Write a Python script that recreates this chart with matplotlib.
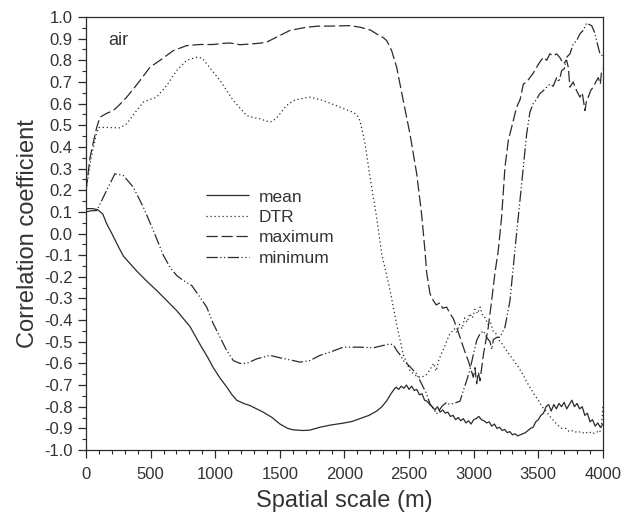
import matplotlib
matplotlib.use("Agg")
import matplotlib.pyplot as plt
from matplotlib.ticker import MultipleLocator

plt.rcParams["font.family"] = ["Liberation Sans", "DejaVu Sans"]

# values (spatial scale in m, correlation coefficient)
MEAN_PTS = [
    (0, 0.115), (50, 0.115), (90, 0.11), (130, 0.09), (160, 0.045), (200, 0.0),
    (250, -0.06), (290, -0.105), (350, -0.145), (400, -0.178), (470, -0.22),
    (550, -0.265), (625, -0.31), (700, -0.355), (805, -0.43), (880, -0.51),
    (940, -0.57), (985, -0.62), (1040, -0.67), (1090, -0.71), (1130, -0.745),
    (1166, -0.77), (1220, -0.785), (1270, -0.795), (1320, -0.81), (1371, -0.825),
    (1440, -0.85), (1501, -0.88), (1560, -0.9), (1604, -0.907), (1680, -0.91),
    (1733, -0.908), (1810, -0.895), (1890, -0.885), (1990, -0.876), (2060, -0.868),
    (2120, -0.855), (2190, -0.84), (2250, -0.82), (2290, -0.8), (2330, -0.77),
    (2360, -0.74), (2390, -0.715), (2400, -0.71), (2420, -0.72), (2440, -0.705),
    (2460, -0.715), (2480, -0.70), (2500, -0.72), (2520, -0.705), (2540, -0.725),
    (2560, -0.72), (2580, -0.745), (2600, -0.74), (2620, -0.77), (2640, -0.775),
    (2660, -0.79), (2680, -0.80), (2700, -0.815), (2720, -0.80), (2740, -0.825),
    (2760, -0.815), (2780, -0.83), (2800, -0.825), (2820, -0.845), (2840, -0.84),
    (2860, -0.86), (2880, -0.85), (2900, -0.865), (2920, -0.855), (2940, -0.875),
    (2960, -0.865), (2980, -0.88), (3000, -0.86), (3020, -0.855), (3040, -0.845),
    (3060, -0.86), (3080, -0.865), (3100, -0.875), (3120, -0.87), (3140, -0.89),
    (3160, -0.88), (3180, -0.9), (3200, -0.895), (3220, -0.91), (3240, -0.905),
    (3260, -0.92), (3280, -0.915), (3300, -0.93), (3320, -0.925), (3340, -0.935),
    (3360, -0.93), (3380, -0.925), (3400, -0.92), (3420, -0.91), (3440, -0.9),
    (3460, -0.895), (3480, -0.87), (3500, -0.86), (3520, -0.84), (3540, -0.83),
    (3560, -0.80), (3580, -0.79), (3600, -0.82), (3620, -0.79), (3640, -0.81),
    (3660, -0.785), (3680, -0.80), (3700, -0.78), (3720, -0.81), (3740, -0.79),
    (3760, -0.77), (3780, -0.80), (3800, -0.785), (3820, -0.81), (3840, -0.80),
    (3860, -0.84), (3880, -0.83), (3900, -0.87), (3920, -0.86), (3940, -0.89),
    (3960, -0.875), (3980, -0.895), (4000, -0.88),
]

DTR_PTS = [
    (0, 0.2), (40, 0.35), (80, 0.46), (100, 0.49), (160, 0.49), (263, 0.488),
    (315, 0.507), (392, 0.568), (444, 0.607), (500, 0.62), (547, 0.63),
    (624, 0.683), (702, 0.753), (779, 0.80), (856, 0.814), (900, 0.81),
    (934, 0.784), (1037, 0.707), (1140, 0.614), (1243, 0.545), (1300, 0.535),
    (1346, 0.53), (1424, 0.514), (1470, 0.53), (1501, 0.553), (1550, 0.59),
    (1604, 0.614), (1680, 0.625), (1733, 0.63), (1800, 0.62), (1836, 0.614),
    (1940, 0.59), (2000, 0.575), (2068, 0.56), (2100, 0.545), (2120, 0.52),
    (2140, 0.47), (2159, 0.415), (2198, 0.26), (2249, 0.075), (2288, -0.093),
    (2352, -0.26), (2404, -0.42), (2455, -0.56), (2507, -0.633), (2559, -0.66),
    (2590, -0.665), (2610, -0.66), (2630, -0.655), (2650, -0.64), (2670, -0.62),
    (2690, -0.60), (2710, -0.635), (2730, -0.585), (2750, -0.555), (2770, -0.53),
    (2790, -0.50), (2810, -0.47), (2830, -0.455), (2850, -0.44), (2870, -0.455),
    (2890, -0.42), (2910, -0.44), (2930, -0.39), (2950, -0.41), (2970, -0.37),
    (2990, -0.39), (3010, -0.35), (3030, -0.37), (3050, -0.34), (3070, -0.38),
    (3090, -0.39), (3110, -0.42), (3130, -0.41), (3150, -0.45), (3170, -0.46),
    (3190, -0.49), (3210, -0.5), (3230, -0.52), (3260, -0.545), (3290, -0.57),
    (3320, -0.595), (3350, -0.62), (3380, -0.65), (3410, -0.685), (3440, -0.715),
    (3470, -0.745), (3500, -0.77), (3530, -0.80), (3560, -0.82), (3590, -0.845),
    (3620, -0.865), (3650, -0.885), (3680, -0.9), (3710, -0.9), (3740, -0.915),
    (3770, -0.91), (3800, -0.92), (3830, -0.915), (3860, -0.925), (3890, -0.915),
    (3920, -0.925), (3950, -0.915), (3975, -0.92), (3990, -0.88), (4000, -0.80),
]

MAX_PTS = [
    (0, 0.2), (31, 0.35), (60, 0.43), (83, 0.49), (108, 0.537), (160, 0.555),
    (211, 0.568), (260, 0.595), (315, 0.63), (370, 0.67), (418, 0.707),
    (495, 0.768), (573, 0.80), (676, 0.845), (779, 0.868), (882, 0.873),
    (985, 0.873), (1060, 0.878), (1114, 0.88), (1191, 0.872), (1260, 0.875),
    (1346, 0.879), (1398, 0.884), (1475, 0.907), (1578, 0.938), (1707, 0.953),
    (1800, 0.958), (1888, 0.958), (2043, 0.96), (2120, 0.953), (2200, 0.94),
    (2249, 0.922), (2300, 0.905), (2327, 0.891), (2365, 0.845), (2404, 0.768),
    (2455, 0.614), (2507, 0.46), (2559, 0.276), (2597, 0.09), (2623, -0.08),
    (2636, -0.18), (2662, -0.278), (2688, -0.31), (2710, -0.33), (2739, -0.32),
    (2760, -0.345), (2791, -0.34), (2817, -0.37), (2840, -0.39), (2868, -0.433),
    (2895, -0.48), (2920, -0.525), (2940, -0.56), (2958, -0.587), (2980, -0.63),
    (2997, -0.664), (3010, -0.62), (3023, -0.694), (3036, -0.64), (3049, -0.68),
    (3075, -0.56), (3113, -0.433), (3139, -0.31), (3165, -0.18), (3190, -0.08),
    (3216, 0.075), (3242, 0.306), (3268, 0.43), (3306, 0.52), (3332, 0.583),
    (3360, 0.62), (3384, 0.69), (3410, 0.70), (3435, 0.72), (3460, 0.74),
    (3487, 0.768), (3510, 0.79), (3539, 0.814), (3565, 0.80), (3590, 0.83),
    (3615, 0.82), (3642, 0.83), (3670, 0.81), (3694, 0.784), (3719, 0.80),
    (3732, 0.768), (3745, 0.676), (3770, 0.70), (3796, 0.66), (3822, 0.63),
    (3840, 0.65), (3861, 0.568), (3875, 0.62), (3887, 0.63), (3905, 0.66),
    (3925, 0.676), (3945, 0.70), (3964, 0.72), (3980, 0.69), (3990, 0.753),
    (4000, 0.76),
]

MIN_PTS = [
    (0, 0.10), (40, 0.105), (83, 0.106), (120, 0.15), (160, 0.2), (224, 0.276),
    (289, 0.268), (366, 0.214), (444, 0.121), (521, 0.014), (598, -0.10),
    (650, -0.156), (702, -0.194), (753, -0.217), (818, -0.24), (882, -0.294),
    (934, -0.34), (985, -0.417), (1037, -0.479), (1088, -0.54), (1140, -0.587),
    (1191, -0.60), (1243, -0.60), (1321, -0.579), (1424, -0.563), (1501, -0.574),
    (1604, -0.587), (1656, -0.594), (1733, -0.587), (1810, -0.563), (1888, -0.548),
    (1991, -0.525), (2120, -0.525), (2223, -0.528), (2300, -0.517), (2352, -0.51),
    (2380, -0.515), (2404, -0.54), (2430, -0.56), (2455, -0.587), (2480, -0.60),
    (2507, -0.615), (2530, -0.63), (2559, -0.648), (2585, -0.68), (2610, -0.71),
    (2635, -0.74), (2662, -0.787), (2690, -0.81), (2713, -0.833), (2730, -0.82),
    (2752, -0.80), (2770, -0.79), (2791, -0.78), (2815, -0.79), (2842, -0.785),
    (2868, -0.78), (2894, -0.775), (2920, -0.725), (2945, -0.68), (2971, -0.63),
    (2997, -0.56), (3023, -0.494), (3049, -0.463), (3075, -0.45), (3101, -0.48),
    (3126, -0.50), (3140, -0.535), (3152, -0.49), (3178, -0.48), (3203, -0.479),
    (3242, -0.433), (3281, -0.31), (3306, -0.156), (3332, 0.0), (3358, 0.152),
    (3384, 0.306), (3410, 0.46), (3435, 0.56), (3460, 0.60), (3487, 0.62),
    (3510, 0.645), (3539, 0.66), (3565, 0.676), (3590, 0.69), (3615, 0.68),
    (3642, 0.72), (3660, 0.70), (3681, 0.753), (3700, 0.76), (3719, 0.814),
    (3745, 0.83), (3771, 0.876), (3796, 0.89), (3822, 0.922), (3850, 0.94),
    (3874, 0.972), (3895, 0.965), (3913, 0.96), (3935, 0.93), (3951, 0.891),
    (3977, 0.83), (4000, 0.82),
]

SERIES = [
    ("mean", MEAN_PTS, (0, ())),
    ("DTR", DTR_PTS, (0, (1, 2.2))),
    ("maximum", MAX_PTS, (0, (9, 3))),
    ("minimum", MIN_PTS, (0, (9, 2, 1, 2, 1, 2))),
]

fig = plt.figure(figsize=(6.3, 5.17), dpi=100)
ax = fig.add_axes([0.1365, 0.1296, 0.8205, 0.8375])

ink = "#2b2b2b"
for name, pts, ls in SERIES:
    xs = [p[0] for p in pts]
    ys = [p[1] for p in pts]
    ax.plot(xs, ys, color=ink, lw=0.9, linestyle=ls, label=name)

ax.set_xlim(0, 4000)
ax.set_ylim(-1.0, 1.0)
ax.xaxis.set_major_locator(MultipleLocator(500))
ax.xaxis.set_minor_locator(MultipleLocator(100))
ax.yaxis.set_minor_locator(MultipleLocator(0.05))
yt = [round(-1.0 + 0.1 * i, 1) for i in range(21)]
ax.set_yticks(yt)
ax.set_yticklabels([f"{v:.1f}" if v != 0 else "0.0" for v in yt])
ax.tick_params(axis="both", which="major", direction="out", length=6, width=0.9,
               color=ink, labelsize=12, labelcolor="#333333")
ax.tick_params(axis="both", which="minor", direction="out", length=3, width=0.8, color=ink)
ax.tick_params(axis="x", pad=6)
for s in ax.spines.values():
    s.set_color(ink)
    s.set_linewidth(0.9)

ax.set_xlabel("Spatial scale (m)", fontsize=17, color="#333333", labelpad=6)
ax.set_ylabel("Correlation coefficient", fontsize=17, color="#333333", labelpad=4)
ax.text(0.044, 0.945, "air", transform=ax.transAxes, fontsize=13, color="#333333",
        va="center", ha="left")

leg = ax.legend(loc="upper left", bbox_to_anchor=(0.215, 0.622), frameon=False,
                fontsize=12.5, handlelength=2.5, handletextpad=0.55, labelspacing=0.3,
                borderpad=0)
for t in leg.get_texts():
    t.set_color("#333333")

fig.savefig("out.png", dpi=100)
